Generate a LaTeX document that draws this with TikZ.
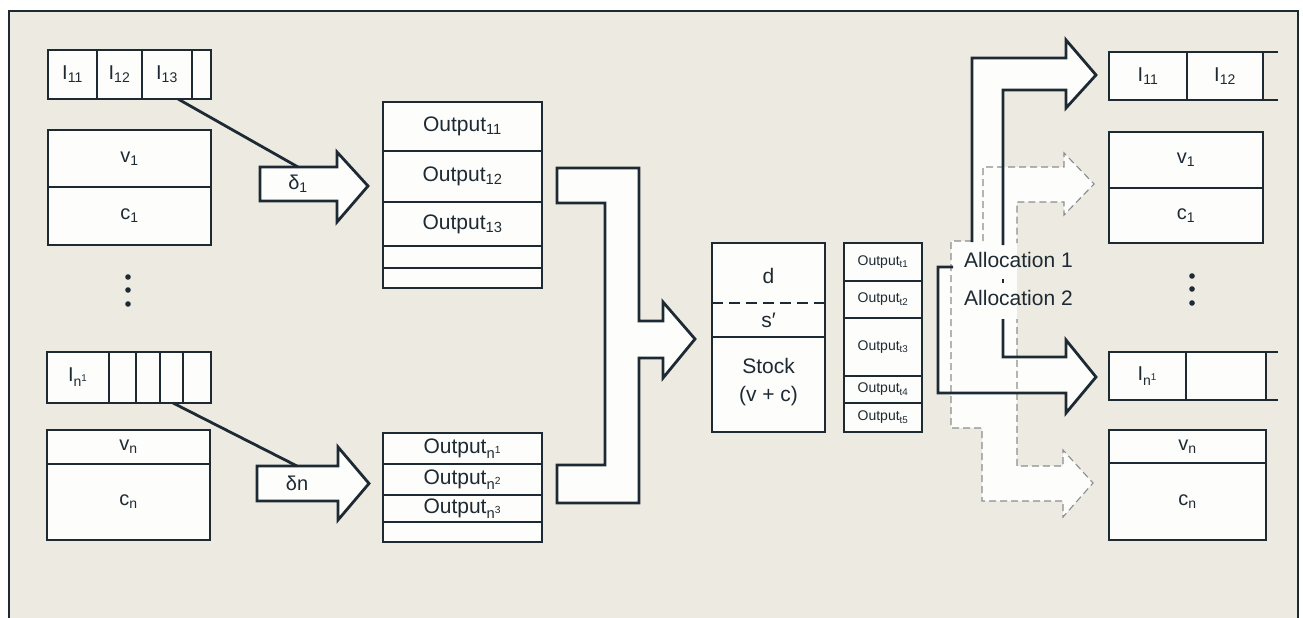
\documentclass[tikz,border=0pt]{standalone}
\usepackage{fontspec}
\setmainfont{Liberation Sans}
\definecolor{ink}{HTML}{1E2A33}
\definecolor{paper}{HTML}{ECEAE1}
\definecolor{cellw}{HTML}{FDFDFB}
\definecolor{dashc}{HTML}{8A8E90}
\newcommand\mysub[1]{\textsubscript{#1}}
\newcommand\mysup[1]{\textsuperscript{#1}}
\newcommand\biglab{\fontsize{20}{22}\selectfont}
\newcommand\smalllab{\fontsize{14}{16}\selectfont}
\newcommand\alloclab{\fontsize{21}{24}\selectfont}
\tikzset{
  cellbox/.style={draw=ink, line width=2.8pt, fill=cellw, inner sep=0pt, outer sep=0pt, font=\biglab, text=ink},
  lab/.style={inner sep=0pt, text=ink},
  arrowshape/.style={draw=ink, line width=2.8pt, fill=cellw, line join=miter},
  solidline/.style={draw=ink, line width=2.8pt, line join=miter},
  dashedline/.style={draw=dashc, line width=1.1pt, dash pattern=on 7pt off 4pt},
  link/.style={draw=ink, line width=2.8pt},
  dotmark/.style={fill=ink}
}
\begin{document}
\begin{tikzpicture}[x=1pt,y=-1pt]
\useasboundingbox (0,0) rectangle (1303,618);
\fill[white] (0,0) rectangle (1303,618);
\fill[paper] (9,11) rectangle (1298,618);
\draw[ink, line width=1.3pt] (9,618)--(9,11)--(1298,11)--(1298,618);

% ---------- left top group ----------
\node[cellbox, minimum width=49pt, minimum height=49pt] (li11) at (72.5,74.5) {I\mysub{11}};
\node[cellbox, minimum width=45pt, minimum height=49pt] (li12) at (119.5,74.5) {I\mysub{12}};
\node[cellbox, minimum width=50pt, minimum height=49pt] (li13) at (167,74.5) {I\mysub{13}};
\node[cellbox, minimum width=19pt, minimum height=49pt] (li14) at (201.5,74.5) {};
\node[cellbox, minimum width=163pt, minimum height=57pt] (lv1) at (129.5,158.5) {v\mysub{1}};
\node[cellbox, minimum width=163pt, minimum height=58pt] (lc1) at (129.5,216) {c\mysub{1}};

\fill[dotmark] (128,277) circle (2.8pt) (128,290) circle (2.8pt) (128,304) circle (2.8pt);

% ---------- left bottom group ----------
\node[cellbox, minimum width=62pt, minimum height=51pt] (lin1) at (78,377.5) {I\mysub{n\mysup{1}}};
\node[cellbox, minimum width=27pt, minimum height=51pt] (lin2) at (122.5,377.5) {};
\node[cellbox, minimum width=24pt, minimum height=51pt] (lin3) at (148,377.5) {};
\node[cellbox, minimum width=23pt, minimum height=51pt] (lin4) at (171.5,377.5) {};
\node[cellbox, minimum width=28pt, minimum height=51pt] (lin5) at (197,377.5) {};
\node[cellbox, minimum width=163pt, minimum height=34pt] (lvn) at (128.5,447) {v\mysub{n}};
\node[cellbox, minimum width=163pt, minimum height=76pt] (lcn) at (128.5,502) {c\mysub{n}};

% ---------- delta arrows ----------
\filldraw[arrowshape] (260,167)--(337,167)--(337,152)--(368,186)--(337,222)--(337,201)--(260,201)--cycle;
\node[lab, font=\biglab] (d1lab) at (298,184) {δ\mysub{1}};
\coordinate (li13b) at (178,99);
\coordinate (d1in) at (298,167);
\draw[link] (li13b) -- (d1in);

\filldraw[arrowshape] (257,466)--(338,466)--(338,447)--(369,483.5)--(338,520)--(338,501)--(257,501)--cycle;
\node[lab, font=\biglab] (dnlab) at (297,483.5) {δn};
\coordinate (linb) at (173,403);
\coordinate (dnin) at (297,466);
\draw[link] (linb) -- (dnin);

% ---------- output boxes ----------
\node[cellbox, minimum width=159pt, minimum height=49pt, font=\fontsize{21}{22}\selectfont] (o11) at (462.5,126.5) {Output\mysub{11}};
\node[cellbox, minimum width=159pt, minimum height=51pt, font=\fontsize{21}{22}\selectfont] (o12) at (462.5,176.5) {Output\mysub{12}};
\node[cellbox, minimum width=159pt, minimum height=44pt, font=\fontsize{21}{22}\selectfont] (o13) at (462.5,224) {Output\mysub{13}};
\node[cellbox, minimum width=159pt, minimum height=22pt] (o14) at (462.5,257) {};
\node[cellbox, minimum width=159pt, minimum height=20pt] (o15) at (462.5,278) {};

\node[cellbox, minimum width=159pt, minimum height=31pt, font=\fontsize{21}{22}\selectfont] (on1) at (462.5,448.5) {Output\mysub{n\mysup{1}}};
\node[cellbox, minimum width=159pt, minimum height=31pt, font=\fontsize{21}{22}\selectfont] (on2) at (462.5,479.5) {Output\mysub{n\mysup{2}}};
\node[cellbox, minimum width=159pt, minimum height=27pt, font=\fontsize{21}{22}\selectfont] (on3) at (462.5,508.5) {Output\mysub{n\mysup{3}}};
\node[cellbox, minimum width=159pt, minimum height=20pt] (on4) at (462.5,532) {};

% ---------- merge arrow ----------
\filldraw[arrowshape] (557,168)--(639,168)--(639,321)--(663,321)--(663,302)--(695,339)--(663,378)--(663,358)--(639,358)--(639,503)--(557,503)--(557,465)--(605,465)--(605,203)--(557,203)--cycle;

% ---------- stock ----------
\node[cellbox, minimum width=113pt, minimum height=189pt] (stock) at (768.5,337.5) {};
\draw[ink, line width=2.6pt, dash pattern=on 11pt off 6pt] (712,303)--(825,303);
\draw[ink, line width=2.8pt] (712,337)--(825,337);
\node[lab, font=\fontsize{21}{22}\selectfont] (dlab) at (768.5,276) {d};
\node[lab, font=\fontsize{21}{22}\selectfont] (slab) at (768.5,320) {s′};
\node[lab, font=\fontsize{21}{22}\selectfont] (stk) at (768.5,366) {Stock};
\node[lab, font=\fontsize{21}{22}\selectfont] (vc) at (768.5,396) {(v + c)};

% ---------- small output column ----------
\node[cellbox, minimum width=78pt, minimum height=38pt, font=\smalllab] (t1) at (883,262) {Output\mysub{t1}};
\node[cellbox, minimum width=78pt, minimum height=37pt, font=\smalllab] (t2) at (883,299.5) {Output\mysub{t2}};
\node[cellbox, minimum width=78pt, minimum height=58pt, font=\smalllab] (t3) at (883,347) {Output\mysub{t3}};
\node[cellbox, minimum width=78pt, minimum height=27pt, font=\smalllab] (t4) at (883,389.5) {Output\mysub{t4}};
\node[cellbox, minimum width=78pt, minimum height=29pt, font=\smalllab] (t5) at (883,417.5) {Output\mysub{t5}};

% ---------- allocation arrows: white fills ----------
\fill[cellw] (972,245)--(972,58)--(1066,58)--(1066,40)--(1096,75)--(1066,108)--(1066,90)--(1003,90)--(1003,245)--cycle;
\fill[cellw] (983,245)--(983,167)--(1064,167)--(1064,153)--(1094,184)--(1064,215)--(1064,202)--(1017,202)--(1017,245)--cycle;
\fill[cellw] (951,241) rectangle (1017,428);
\fill[cellw] (938,267) rectangle (951,393);
\fill[cellw] (951,357)--(1066,357)--(1066,340)--(1096,377)--(1066,413)--(1066,393)--(951,393)--cycle;
\fill[cellw] (982,428)--(982,501)--(1063,501)--(1063,517)--(1093,483)--(1063,450)--(1063,466)--(1017,466)--(1017,428)--cycle;

% dashed outlines
\draw[dashedline] (972,241)--(951,241)--(951,428)--(982,428)--(982,501)--(1063,501)--(1063,517)--(1093,483)--(1063,450)--(1063,466)--(1017,466)--(1017,319);
\draw[dashedline] (983,241)--(983,167)--(1064,167)--(1064,153)--(1094,184)--(1064,215)--(1064,202)--(1017,202)--(1017,243);

% solid outlines
\draw[solidline] (972,242)--(972,58)--(1066,58)--(1066,40)--(1096,75)--(1066,108)--(1066,90)--(1003,90)--(1003,245);
\draw[solidline] (953,267)--(938,267)--(938,393)--(1066,393)--(1066,413)--(1096,377)--(1066,340)--(1066,357)--(1003,357)--(1003,319);
\draw[ink, line width=2pt] (1003,279)--(1003,283);

\node[lab, font=\alloclab, anchor=west] (al1) at (964,260) {Allocation 1};
\node[lab, font=\alloclab, anchor=west] (al2) at (964,298) {Allocation 2};

% ---------- right groups ----------
\node[cellbox, minimum width=78pt, minimum height=48pt] (ri11) at (1148,76) {I\mysub{11}};
\node[cellbox, minimum width=76pt, minimum height=48pt] (ri12) at (1225,76) {I\mysub{12}};
\draw[link] (ri12.north east) -- ++(15,0);
\draw[link] (ri12.south east) -- ++(15,0);
\node[cellbox, minimum width=154pt, minimum height=56pt] (rv1) at (1186,160) {v\mysub{1}};
\node[cellbox, minimum width=154pt, minimum height=55pt] (rc1) at (1186,215.5) {c\mysub{1}};

\fill[dotmark] (1192,276) circle (2.8pt) (1192,289) circle (2.8pt) (1192,303) circle (2.8pt);

\node[cellbox, minimum width=77pt, minimum height=48pt] (rin1) at (1147.5,376) {I\mysub{n\mysup{1}}};
\node[cellbox, minimum width=80pt, minimum height=48pt] (rin2) at (1226,376) {};
\draw[link] (rin2.north east) -- ++(12,0);
\draw[link] (rin2.south east) -- ++(12,0);
\node[cellbox, minimum width=157pt, minimum height=33pt] (rvn) at (1187.5,446.5) {v\mysub{n}};
\node[cellbox, minimum width=157pt, minimum height=77pt] (rcn) at (1187.5,501.5) {c\mysub{n}};
\end{tikzpicture}
\end{document}
